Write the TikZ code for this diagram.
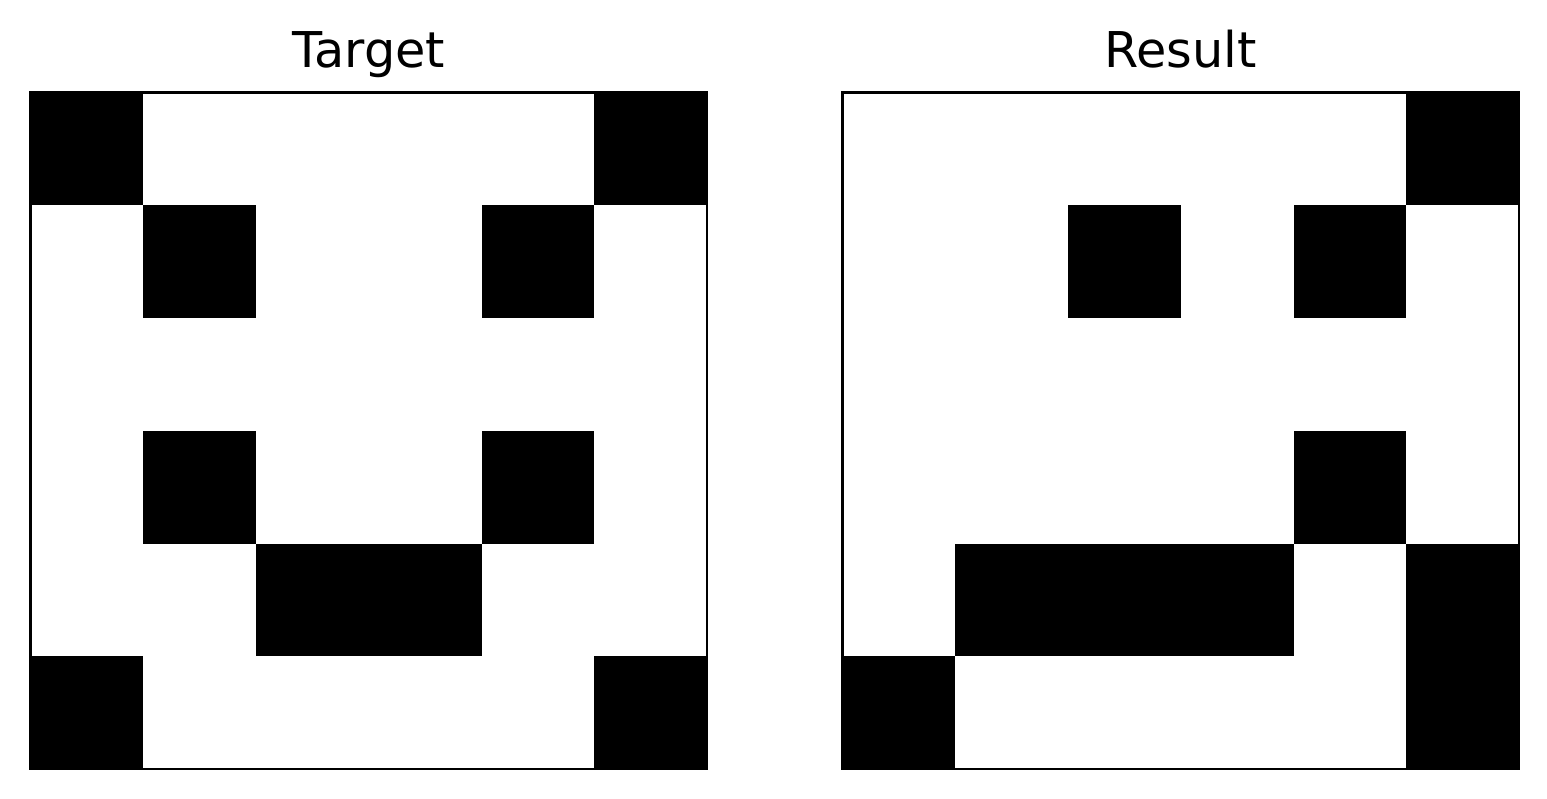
\documentclass[tikz,border=0pt]{standalone}
\usepackage{fontspec}
\setmainfont{DejaVu Sans}
\begin{document}
\begin{tikzpicture}[x=0.75pt,y=-0.75pt,
  cellbox/.style={fill=black,draw=none},
  frame/.style={draw=black,line width=1.9pt},
  titletext/.style={anchor=base,inner sep=0pt,font=\fontsize{37}{38}\selectfont}]
\useasboundingbox (0,0) rectangle (1547,799);
\def\cs{112.75}
% Target grid
\begin{scope}[shift={(30.5,92.5)}]
  \foreach \r/\c in {0/0,0/5,1/1,1/4,3/1,3/4,4/2,4/3,5/0,5/5}
    \fill[cellbox] (\c*\cs,\r*\cs) rectangle ++(\cs,\cs);
  \draw[frame] (0,0) rectangle (6*\cs,6*\cs);
\end{scope}
\node[titletext] (ttarget) at (368.75,68) {Target};
% Result grid
\begin{scope}[shift={(842.5,92.5)}]
  \foreach \r/\c in {0/5,1/2,1/4,3/4,4/1,4/2,4/3,4/5,5/0,5/5}
    \fill[cellbox] (\c*\cs,\r*\cs) rectangle ++(\cs,\cs);
  \draw[frame] (0,0) rectangle (6*\cs,6*\cs);
\end{scope}
\node[titletext] (tresult) at (1180.75,68) {Result};
\end{tikzpicture}
\end{document}
